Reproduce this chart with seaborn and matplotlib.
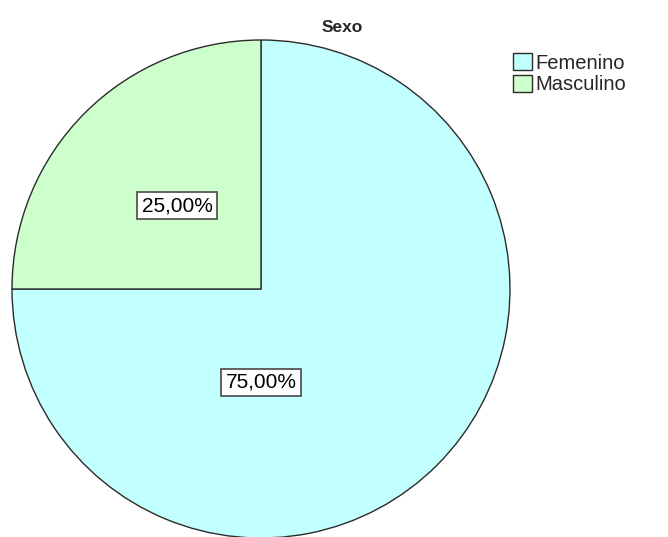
import matplotlib
matplotlib.use('Agg')
import matplotlib.pyplot as plt
import seaborn as sns

# Dados
categorias = ['Femenino', 'Masculino']
percentuais = [75.0, 25.0]
cores = ['#C2FFFF', '#CCFFCC']

# Estilo
sns.set_style("white")
plt.rcParams['font.family'] = ['Liberation Sans', 'DejaVu Sans']

fig = plt.figure(figsize=(6.68, 5.37), dpi=100)
fig.patch.set_facecolor('white')

# eixo quadrado em pixels: centro (261, 289), raio 249
cx, cy, r = 261, 289, 249
ax = fig.add_axes([(cx - r) / 668, (537 - cy - r) / 537, 2 * r / 668, 2 * r / 537])


def fmt(p):
    return f'{p:.2f}%'.replace('.', ',')


wedges, textos, autotextos = ax.pie(
    percentuais, colors=cores, startangle=90, counterclock=False, radius=1,
    autopct=fmt, pctdistance=0.47,
    wedgeprops=dict(edgecolor='#2b2b2b', linewidth=1.0),
    textprops=dict(fontsize=15, color='black'))
ax.set_aspect('auto')
ax.set_xlim(-1, 1)
ax.set_ylim(-1, 1)
ax.axis('off')

# posição dos rótulos como no original
autotextos[0].set_position((0.0, -0.375))
autotextos[1].set_position((-0.337, 0.335))
for t in autotextos:
    t.set_bbox(dict(facecolor='white', edgecolor='#555555', linewidth=1.3, pad=3.0))

fig.text(342 / 668, 1 - 27 / 537, 'Sexo', ha='center', va='center',
         fontsize=12.5, fontweight='bold')

fig.legend(wedges, categorias, loc='upper left',
           bbox_to_anchor=(505 / 668, 1 - 45 / 537), frameon=False,
           fontsize=14.5, handlelength=0.95, handleheight=0.95,
           handletextpad=0.15, labelspacing=0.1, borderaxespad=0)

plt.savefig('out.png', dpi=100)
